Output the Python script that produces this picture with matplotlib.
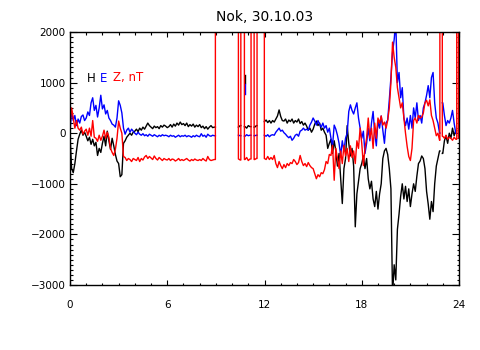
import numpy as np
import matplotlib
matplotlib.use("Agg")
import matplotlib.pyplot as plt

# Magnetometer record, Nok station, 30 Oct 2003; 0.1 h samples, nT
hours = np.round(np.arange(241) * 0.1, 1)
nan = np.nan

H = [
    -50, -700, -780, -600, -350, -120, -20, 60, -40, 20,
    -60, -150, -80, -220, -120, -250, -180, -440, -300, -380,
    -200, -60, -250, 40, -150, -320, -100, -250, -420, -550,
    -600, -860, -820, -200, -150, -80, -40, 0, -40, 20,
    40, 80, 30, 100, 60, 120, 80, 140, 200, 150,
    120, 90, 140, 110, 130, 90, 150, 120, 160, 140,
    110, 130, 170, 120, 180, 140, 200, 160, 220, 170,
    190, 150, 200, 130, 170, 140, 180, 120, 160, 130,
    170, 110, 140, 90, 130, 80, 120, 150, 110, 120,
    nan, nan, nan, nan, nan, nan, nan, nan, nan, nan,
    nan, nan, nan, nan, 120, 150, nan, nan, 130, 100,
    150, 130, nan, nan, 120, 150, nan, nan, nan, nan,
    230, 260, 210, 250, 200, 250, 220, 280, 340, 460,
    330, 250, 240, 280, 200, 260, 230, 280, 200, 250,
    220, 280, 190, 230, 160, 200, 140, 60, 100, 20,
    80, 180, 240, 150, 200, 60, 100, 20, -40, -300,
    -200, -120, -400, -150, -350, -650, -400, -900, -1390, -700,
    -500, 150, -200, -450, -300, -650, -1850, -1200, -950, -700,
    -600, -450, -700, -500, -900, -1100, -950, -1300, -1450, -1150,
    -1500, -1200, -1000, -500, -350, -300, -420, -700, -1100, -3200,
    -2600, -2900, -1900, -1600, -1250, -1000, -1300, -1050, -1350, -1100,
    -1450, -1200, -1000, -1150, -850, -600, -550, -450, -500, -700,
    -1150, -1400, -1700, -1350, -1550, -1000, -650, -500, -350, nan,
    -400, -150, -50, -200, 0, -100, 100, -50, 50, nan,
    -50,
]

E = [
    40, 430, 250, 350, 150, 280, 200, 330, 360, 250,
    300, 420, 350, 600, 700, 450, 550, 320, 500, 750,
    480, 560, 380, 450, 300, 250, 180, 160, 120, 300,
    640, 550, 400, 100, -20, 60, 100, 20, 80, 40,
    0, -30, 20, -20, -40, -10, -50, -30, -60, -20,
    -40, -60, -30, -50, -70, -40, -60, -30, -50, -40,
    -50, -70, -40, -60, -50, -80, -60, -40, -70, -50,
    -60, -40, -70, -50, -60, -80, -50, -70, -40, -60,
    -70, -10, -60, -40, -80, -20, -50, -60, -40, -50,
    nan, nan, nan, nan, nan, nan, nan, nan, nan, nan,
    nan, nan, nan, nan, -40, -50, nan, nan, -60, -30,
    -50, -40, nan, nan, -50, -40, nan, nan, nan, nan,
    -40, -60, -30, -70, -40, -30, -40, 20, 60, 100,
    40, 60, 10, -20, -60, -90, -60, -140, -100, -40,
    -20, -60, 40, 60, 100, 60, 80, 60, 160, 220,
    300, 240, 160, 250, 180, 120, 200, 100, 150, 20,
    100, -100, -240, 160, 80, -40, -200, -440, -150, -350,
    -100, 0, 430, 560, 450, 380, 500, 600, 300, 100,
    -100, 40, -400, -200, 100, -150, 200, 430, 0, -250,
    250, 100, 340, 60, -200, 200, 260, 660, 1100, 1600,
    1850, 2200, 1000, 1200, 700, 900, 300, 150, 300, 80,
    350, 100, 500, 300, 600, 250, 350, 200, 500, 600,
    750, 940, 700, 1100, 1200, 600, 300, 200, 0, nan,
    600, 350, 150, 250, 200, 300, 450, 200, 0, nan,
    1130,
]

Z = [
    160, 500, 300, 100, 250, 100, 60, 120, -20, 40,
    80, -40, 100, -60, 250, -80, -100, -160, -40, -140,
    -60, 60, -100, 20, -80, -300, -380, -440, -320, -100,
    240, 100, 0, -460, -480, -540, -500, -520, -560, -500,
    -520, -540, -480, -560, -500, -530, -470, -440, -500, -460,
    -490, -520, -450, -500, -530, -480, -510, -540, -500, -520,
    -530, -500, -540, -510, -520, -550, -530, -500, -540, -520,
    -540, -520, -500, -530, -550, -520, -540, -510, -530, -540,
    -520, -540, -500, -530, -550, -460, -520, -540, -530, -520,
    nan, nan, nan, nan, nan, nan, nan, nan, nan, nan,
    nan, nan, nan, nan, -510, -530, nan, nan, -520, -480,
    -540, -510, nan, nan, -520, -500, nan, nan, nan, nan,
    -500, -520, -460, -520, -480, -520, -440, -600, -680, -560,
    -640, -700, -620, -680, -600, -640, -580, -600, -520, -560,
    -620, -580, -440, -560, -640, -600, -660, -580, -640, -680,
    -700, -800, -900, -820, -860, -780, -800, -720, -560, -600,
    -420, -440, -240, -930, -300, -500, -700, -350, -600, -240,
    -450, -300, -560, -250, -480, -350, -600, -150, -300, 100,
    -200, -640, -300, -100, 300, -100, 100, -300, 200, -100,
    300, 200, 340, 160, 220, 100, 250, 500, 1000, 1800,
    1500, 1300, 900, 700, 500, 600, 300, 0, -260, -460,
    -540, -300, 250, 300, 200, 350, 300, 320, 400, 600,
    650, 540, 660, 350, 250, 100, -50, 0, -140, nan,
    -60, -100, -40, -120, -80, -100, -140, -80, -120, nan,
    -100,
]

# Data outages (start, end) in hours; Z carries a fill value there
gaps = [(8.97, 10.39), (10.54, 10.76), (11.17, 11.36),
        (11.54, 11.99), (22.82, 22.97), (23.86, 23.97)]
Z_FILL = 99999.0

# Isolated readings at the start of the 10.8 h record
spike_hours = [10.78, 10.78]
spike_H = [1150, 1000]
spike_E = [980, 780]


def build_trace(values, fill=None):
    vals = np.asarray(values, float)
    pts = [(h, 1, v) for h, v in zip(hours, vals) if not np.isnan(v)]
    extra = []
    for a, b in gaps:
        before = [p[2] for p in pts if p[0] < a][-1]
        after = [p[2] for p in pts if p[0] > b][0]
        if fill is None:
            extra += [(a, 0, before), (a, 2, nan), (b, 0, after)]
        else:
            extra += [(a, 0, before), (a, 2, fill), (b, 0, fill), (b, 2, after)]
    allp = sorted(pts + extra, key=lambda p: (p[0], p[1]))
    return np.array([p[0] for p in allp]), np.array([p[2] for p in allp])


fig = plt.figure(figsize=(4.8, 3.5), dpi=100)
ax = fig.add_axes([70 / 480, 1 - 285 / 350, 389 / 480, 253 / 350])

lw = 1.0
t, v = build_trace(H)
ax.plot(t, v, color="black", lw=lw)
ax.plot(spike_hours, spike_H, color="black", lw=lw)
t, v = build_trace(E)
ax.plot(t, v, color="#0000ff", lw=lw)
ax.plot(spike_hours, spike_E, color="#0000ff", lw=lw)
t, v = build_trace(Z, fill=Z_FILL)
ax.plot(t, v, color="#ff0000", lw=lw)

ax.set_xlim(0, 24)
ax.set_ylim(-3000, 2000)
ax.set_xticks([0, 6, 12, 18, 24])
ax.set_xticks(np.arange(0, 25, 1), minor=True)
ax.set_yticks(np.arange(-3000, 2001, 1000))
ax.set_yticks(np.arange(-3000, 2001, 100), minor=True)

ax.tick_params(axis="both", which="both", direction="in",
               top=True, right=True, width=0.8, colors="black")
ax.tick_params(axis="x", which="major", length=3.6, pad=11, labelsize=7.5)
ax.tick_params(axis="x", which="minor", length=1.8)
ax.tick_params(axis="y", which="major", length=5, pad=3, labelsize=7.5)
ax.tick_params(axis="y", which="minor", length=1.8)
for s in ax.spines.values():
    s.set_linewidth(1.0)

ax.set_title("Nok, 30.10.03", fontsize=10, pad=8)

fig.text(87 / 480, 1 - 78 / 350, "H", fontsize=8.5, color="black", va="center")
fig.text(100 / 480, 1 - 78 / 350, "E", fontsize=8.5, color="#0000ff", va="center")
fig.text(113 / 480, 1 - 78 / 350, "Z, nT", fontsize=8.5, color="#ff0000", va="center")

fig.savefig("out.png", dpi=100)
